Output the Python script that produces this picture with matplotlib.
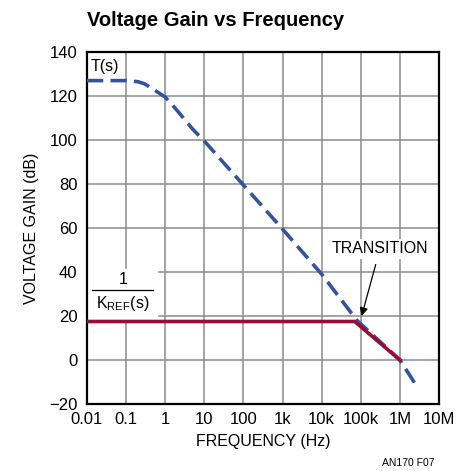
import numpy as np
import matplotlib.pyplot as plt

# values
t_freq = [0.01, 0.1, 0.2, 0.3, 0.5, 1, 2, 5, 10, 100, 1e3, 1e4, 8e4, 1e6, 2.5e6]
t_gain = [127, 127, 126.5, 125.5, 123, 119.5, 113.5, 105, 99.5, 79.5, 59.5, 39, 18, 0, -11]

k_freq = [0.01, 7e4, 1e6]
k_gain = [17.5, 17.5, 0]

xticks = [0.01, 0.1, 1, 10, 100, 1e3, 1e4, 1e5, 1e6, 1e7]
xlabels = ['0.01', '0.1', '1', '10', '100', '1k', '10k', '100k', '1M', '10M']
yticks = [-20, 0, 20, 40, 60, 80, 100, 120, 140]
ylabels = ['\u221220', '0', '20', '40', '60', '80', '100', '120', '140']

plt.rcParams['font.family'] = ['Liberation Sans', 'DejaVu Sans']

fig = plt.figure(figsize=(4.6, 4.71), dpi=100)
ax = fig.add_axes([87/460, 1-404/471, 352/460, 352/471])

ax.plot(t_freq, t_gain, color='#3352a0', lw=2.6, dashes=(4.5, 2), zorder=3)
ax.plot(k_freq, k_gain, color='#9b0b38', lw=2.6, zorder=4)

ax.set_xscale('log')
ax.set_xlim(0.01, 1e7)
ax.set_ylim(-20, 140)
ax.set_xticks(xticks)
ax.set_xticklabels(xlabels)
ax.set_yticks(yticks)
ax.set_yticklabels(ylabels)
ax.minorticks_off()
ax.tick_params(length=0, labelsize=12)
ax.tick_params(axis='x', pad=6)
ax.tick_params(axis='y', pad=7)
ax.grid(True, color='#8c8c8c', lw=1.1)
for s in ax.spines.values():
    s.set_linewidth(1.6)

ax.set_xlabel('FREQUENCY (Hz)', fontsize=11.5, labelpad=5)
ax.set_ylabel('VOLTAGE GAIN (dB)', fontsize=11.5, labelpad=7)

fig.text(87/460, 1-20/471, 'Voltage Gain vs Frequency', fontsize=14.5,
         fontweight='bold', va='center', ha='left')
fig.text(435/460, 1-463/471, 'AN170 F07', fontsize=7.5, ha='right', va='center')

ax.text(0.0125, 133.5, 'T(s)', fontsize=11.5, va='center', ha='left')

# 1 / K_REF(s) label with white box
ax.fill_between([0.0102, 0.6], 18.8, 41.5, color='white', zorder=2)
ax.text(0.085, 36.5, '1', fontsize=11.5, ha='center', va='center', zorder=3)
ax.plot([0.0135, 0.5], [31.6, 31.6], color='black', lw=0.9, zorder=3)
ax.text(0.083, 25.5, r'K$_{\mathregular{REF}}$(s)', fontsize=11.5,
        ha='center', va='center', zorder=3)

ax.annotate('TRANSITION', xy=(1.05e5, 20), xytext=(3.1e5, 50.5),
            fontsize=11.5, ha='center', va='center', zorder=5,
            bbox=dict(fc='white', ec='none', pad=2),
            arrowprops=dict(arrowstyle='-|>', color='black', lw=0.9,
                            shrinkA=4, shrinkB=0, mutation_scale=12))

fig.savefig('out.png', dpi=100)
